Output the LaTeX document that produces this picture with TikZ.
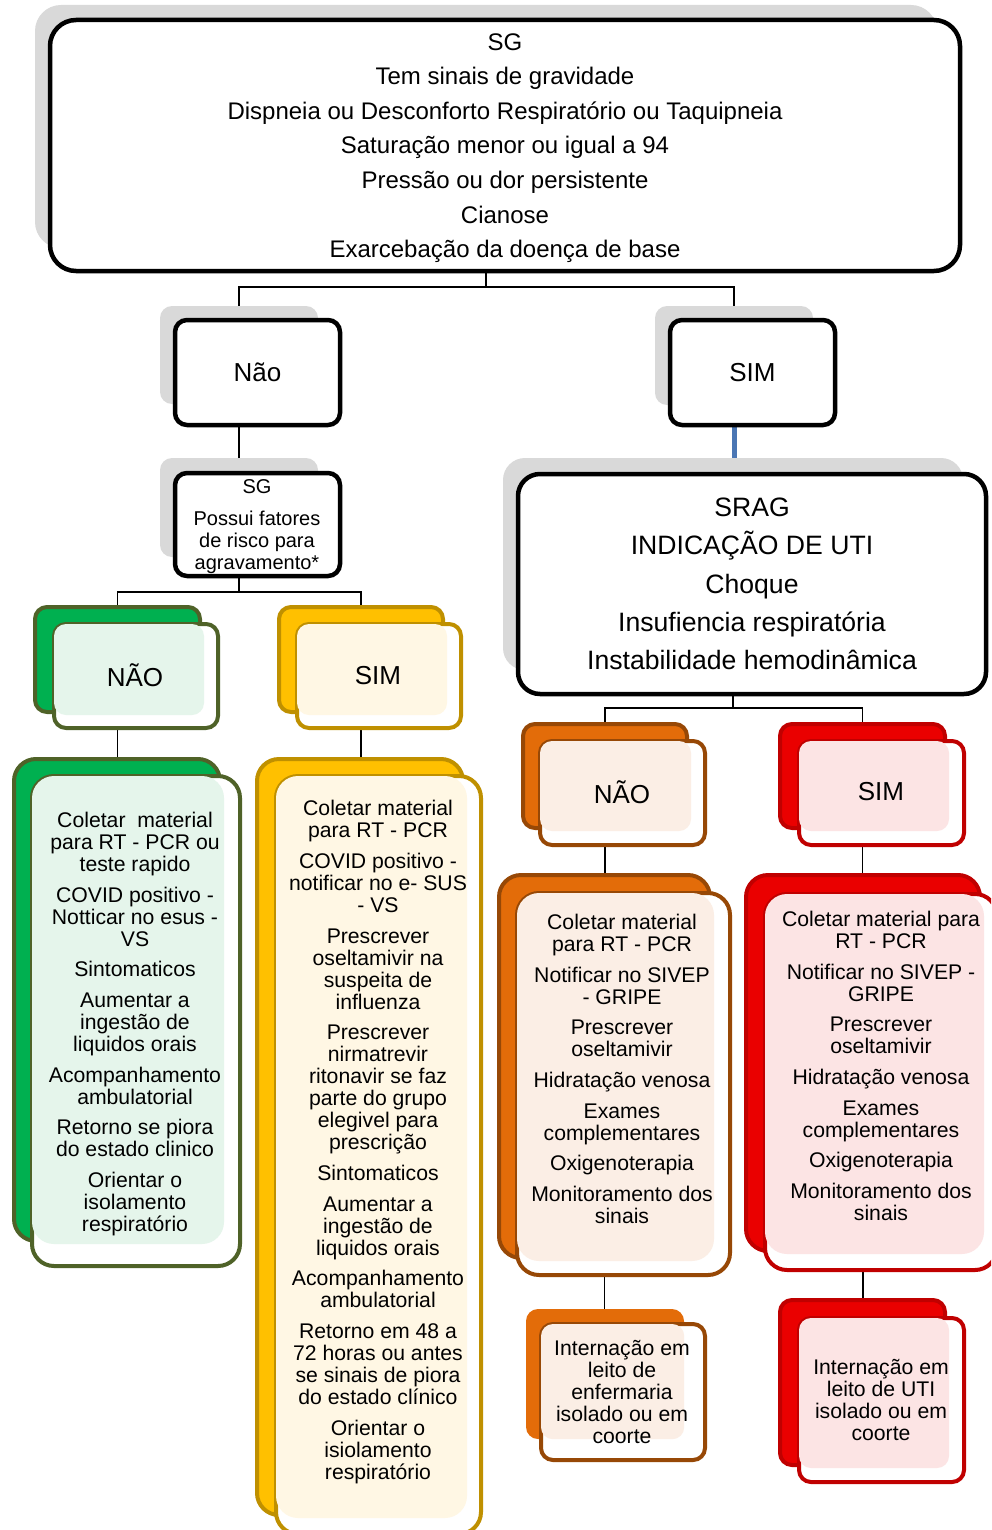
\documentclass[tikz,border=0pt]{standalone}
\usepackage{fontspec}
\setmainfont{Liberation Sans}
\usetikzlibrary{calc}
\definecolor{bgray}{HTML}{D9D9D9}
\definecolor{gfill}{HTML}{00B050}
\definecolor{gline}{HTML}{4F6228}
\definecolor{gtint}{HTML}{E5F5EB}
\definecolor{yfill}{HTML}{FFC000}
\definecolor{yline}{HTML}{BF9000}
\definecolor{ytint}{HTML}{FFF7E4}
\definecolor{ofill}{HTML}{E36C09}
\definecolor{oline}{HTML}{974806}
\definecolor{otint}{HTML}{FBEEE5}
\definecolor{rfill}{HTML}{EA0000}
\definecolor{rline}{HTML}{C00000}
\definecolor{rtint}{HTML}{FCE4E4}
\definecolor{cblue}{HTML}{4A76B4}
\pgfdeclarelayer{paper}
\pgfdeclarelayer{bg}
\pgfsetlayers{paper,bg,main}
\tikzset{
  sz/.style 2 args={minimum width=#1pt, minimum height=#2pt},
  graybk/.style={fill=bgray, draw=none, inner sep=0pt, rounded corners=12pt},
  blackfr/.style={fill=white, draw=black, line width=4.5pt, inner sep=0pt, rounded corners=12pt, align=center},
  colbk/.style 2 args={fill=#1, draw=#2, line width=4pt, inner sep=0pt, rounded corners=12pt},
  colfr/.style={fill=white, draw=#1, line width=4pt, inner sep=0pt, rounded corners=12pt},
  big/.style={rounded corners=22pt},
  conn/.style={draw=black, line width=1.6pt},
  connblue/.style={draw=cblue, line width=5pt},
  body/.style={font=\fontsize{21.2}{22}\selectfont, align=center, inner sep=0pt},
  lab/.style={font=\fontsize{26}{30}\selectfont, inner sep=0pt},
}
\begin{document}
\begin{tikzpicture}[x=1pt,y=-1pt]
\useasboundingbox (0,0) rectangle (991,1530);
\begin{pgfonlayer}{paper}
\fill[white] (0,0) rectangle (991,1530);
\end{pgfonlayer}
\clip (0,0) rectangle (991,1530);

% ---- top box
\node[graybk, rounded corners=26pt, sz={902}{243}] (topb) at (486,126.5) {};
\node[blackfr, rounded corners=26pt, sz={910}{251}] (topf) at (505,145.5) {};
\node[inner sep=0pt, align=center, font=\fontsize{24}{34.6}\selectfont] (topt) at (505,148)
  {SG\\Tem sinais de gravidade\\Dispneia ou Desconforto Respiratório ou Taquipneia\\Saturação menor ou igual a 94\\Pressão ou dor persistente\\Cianose\\Exarcebação da doença de base};

% ---- level 2
\node[graybk, sz={158}{98}] (naob) at (239,355) {};
\node[blackfr, lab, sz={165}{105}] (naof) at (257.5,372.5) {Não};
\node[graybk, sz={158}{99}] (simb) at (734,355.5) {};
\node[blackfr, lab, sz={165}{105}] (simf) at (752.5,372.5) {SIM};

% ---- SG small
\node[graybk, sz={158}{99}] (sgb) at (239,507.5) {};
\node[blackfr, sz={165}{103}] (sgf) at (257.5,524.5) {};
\node[inner sep=0pt, align=center, font=\fontsize{20}{22}\selectfont] (sgt) at (257,527)
  {SG\\[10pt]Possui fatores\\de risco para\\agravamento*};

% ---- SRAG
\node[graybk, big, sz={460}{212}] (sragb) at (733,564) {};
\node[blackfr, big, sz={468}{220}, font=\fontsize{26.6}{38.3}\selectfont] (sragf) at (752,584)
  {SRAG\\INDICAÇÃO DE UTI\\Choque\\Insufiencia respiratória\\Instabilidade hemodinâmica};

% ---- green NAO
\node[colbk={gfill}{gline}, sz={165}{105}] (gnb) at (117.5,659.5) {};
\node[colfr=gline, sz={164}{104}] (gnf) at (136,676) {};
\fill[gtint, rounded corners=12pt] ([shift={(2,2)}]gnf.north west) rectangle ([shift={(2,1)}]gnb.south east);
\node[lab] (gnt) at (135,675) {NÃO};

% ---- yellow SIM
\node[colbk={yfill}{yline}, sz={164}{105}] (ysb) at (361,659.5) {};
\node[colfr=yline, sz={164}{104}] (ysf) at (379,676) {};
\fill[ytint, rounded corners=12pt] ([shift={(2,2)}]ysf.north west) rectangle ([shift={(2,1)}]ysb.south east);
\node[lab] (yst) at (378,676) {SIM};

% ---- green big
\node[colbk={gfill}{gline}, big, sz={206}{482}] (gbb) at (117,1000) {};
\node[colfr=gline, big, sz={208}{490}] (gbf) at (136,1021) {};
\fill[gtint, rounded corners=22pt] ([shift={(2,2)}]gbf.north west) rectangle ([shift={(2,1)}]gbb.south east);
\node[body] (gbt) at (135,1024) {Coletar\ \ material\\para RT - PCR ou\\teste rapido\\[8.7pt]COVID positivo -\\Notticar no esus -\\VS\\[8.7pt]Sintomaticos\\[8.7pt]Aumentar a\\ingestão de\\liquidos orais\\[8.7pt]Acompanhamento\\ambulatorial\\[8.7pt]Retorno se piora\\do estado clinico\\[8.7pt]Orientar o\\isolamento\\respiratório};

% ---- yellow big
\node[colbk={yfill}{yline}, big, sz={206}{756}] (ybb) at (360,1137) {};
\node[colfr=yline, big, sz={205}{758}] (ybf) at (378.5,1155) {};
\fill[ytint, rounded corners=22pt] ([shift={(2,2)}]ybf.north west) rectangle ([shift={(2,1)}]ybb.south east);
\node[body] (ybt) at (378,1142) {Coletar material\\para RT - PCR\\[8.7pt]COVID positivo -\\notificar no e- SUS\\- VS\\[8.7pt]Prescrever\\oseltamivir na\\suspeita de\\influenza\\[8.7pt]Prescrever\\nirmatrevir\\ritonavir se faz\\parte do grupo\\elegivel para\\prescrição\\[8.7pt]Sintomaticos\\[8.7pt]Aumentar a\\ingestão de\\liquidos orais\\[8.7pt]Acompanhamento\\ambulatorial\\[8.7pt]Retorno em 48 a\\72 horas ou antes\\se sinais de piora\\do estado clínico\\[8.7pt]Orientar o\\isiolamento\\respiratório};

% ---- orange NAO
\node[colbk={ofill}{oline}, sz={164}{104}] (onb) at (605,776) {};
\node[colfr=oline, sz={165}{104}] (onf) at (622.5,793) {};
\fill[otint, rounded corners=12pt] ([shift={(2,2)}]onf.north west) rectangle ([shift={(2,1)}]onb.south east);
\node[lab] (ont) at (622,792) {NÃO};

% ---- red SIM
\node[colbk={rfill}{rline}, sz={165}{104}] (rsb) at (862.5,776) {};
\node[colfr=rline, sz={165}{104}] (rsf) at (881.5,793) {};
\fill[rtint, rounded corners=12pt] ([shift={(2,2)}]rsf.north west) rectangle ([shift={(2,1)}]rsb.south east);
\node[lab] (rst) at (881,792) {SIM};

% ---- orange big
\node[colbk={ofill}{oline}, big, sz={211}{383}] (obb) at (604.5,1066.5) {};
\node[colfr=oline, big, sz={213}{382}] (obf) at (623.5,1084) {};
\fill[otint, rounded corners=22pt] ([shift={(2,2)}]obf.north west) rectangle ([shift={(2,1)}]obb.south east);
\node[body] (obt) at (622,1069) {Coletar material\\para RT - PCR\\[8.7pt]Notificar no SIVEP\\- GRIPE\\[8.7pt]Prescrever\\oseltamivir\\[8.7pt]Hidratação venosa\\[8.7pt]Exames\\complementares\\[8.7pt]Oxigenoterapia\\[8.7pt]Monitoramento dos\\sinais};

% ---- red big
\node[colbk={rfill}{rline}, big, sz={234}{376}] (rbb) at (863,1063) {};
\node[colfr=rline, big, sz={232}{376}] (rbf) at (881,1082) {};
\fill[rtint, rounded corners=22pt] ([shift={(2,2)}]rbf.north west) rectangle ([shift={(2,1)}]rbb.south east);
\node[body] (rbt) at (881,1066) {Coletar material para\\RT - PCR\\[8.7pt]Notificar no SIVEP -\\GRIPE\\[8.7pt]Prescrever\\oseltamivir\\[8.7pt]Hidratação venosa\\[8.7pt]Exames\\complementares\\[8.7pt]Oxigenoterapia\\[8.7pt]Monitoramento dos\\sinais};

% ---- orange small
\node[fill=ofill, draw=none, inner sep=0pt, rounded corners=12pt, sz={158}{130}] (osb) at (605,1374) {};
\node[colfr=oline, sz={164}{136}] (osf) at (623,1392) {};
\fill[otint, rounded corners=12pt] ([shift={(2,2)}]osf.north west) rectangle (osb.south east);
\node[body] (ost) at (622,1391.5) {Internação em\\leito de\\enfermaria\\isolado ou em\\coorte};

% ---- red small
\node[colbk={rfill}{rline}, sz={165}{165}] (rsmb) at (862.5,1382.5) {};
\node[colfr=rline, sz={165}{164}] (rsmf) at (881.5,1400) {};
\fill[rtint, rounded corners=12pt] ([shift={(2,2)}]rsmf.north west) rectangle ([shift={(2,1)}]rsmb.south east);
\node[body] (rsmt) at (881,1400) {Internação em\\leito de UTI\\isolado ou em\\coorte};

% ---- connectors
\begin{pgfonlayer}{bg}
\coordinate (bar1) at (0,287);
\coordinate (bar2) at (0,592);
\coordinate (bar3) at (0,708);
\draw[conn] (topb.south) -- (topb.south |- bar1);
\draw[conn] (naob.north) |- (simb.north |- bar1) -- (simb.north);
\draw[conn] (naob.south) -- (naob.south |- sgb.north);
\draw[connblue] (simb.south) -- (simb.south |- sragb.north);
\draw[conn] (sgb.south) -- (sgb.south |- bar2);
\draw[conn] (gnb.north) |- (ysb.north |- bar2) -- (ysb.north);
\draw[conn] (gnb.south) -- (gnb.south |- gbb.north);
\draw[conn] (ysb.south) -- (ysb.south |- ybb.north);
\draw[conn] (sragb.south) -- (sragb.south |- bar3);
\draw[conn] (onb.north) |- (rsb.north |- bar3) -- (rsb.north);
\draw[conn] (onb.south) -- (onb.south |- obb.north);
\draw[conn] (rsb.south) -- (rsb.south |- rbb.north);
\draw[conn] (obb.south) -- (obb.south |- osb.north);
\draw[conn] (rbb.south) -- (rbb.south |- rsmb.north);
\end{pgfonlayer}
\end{tikzpicture}
\end{document}
